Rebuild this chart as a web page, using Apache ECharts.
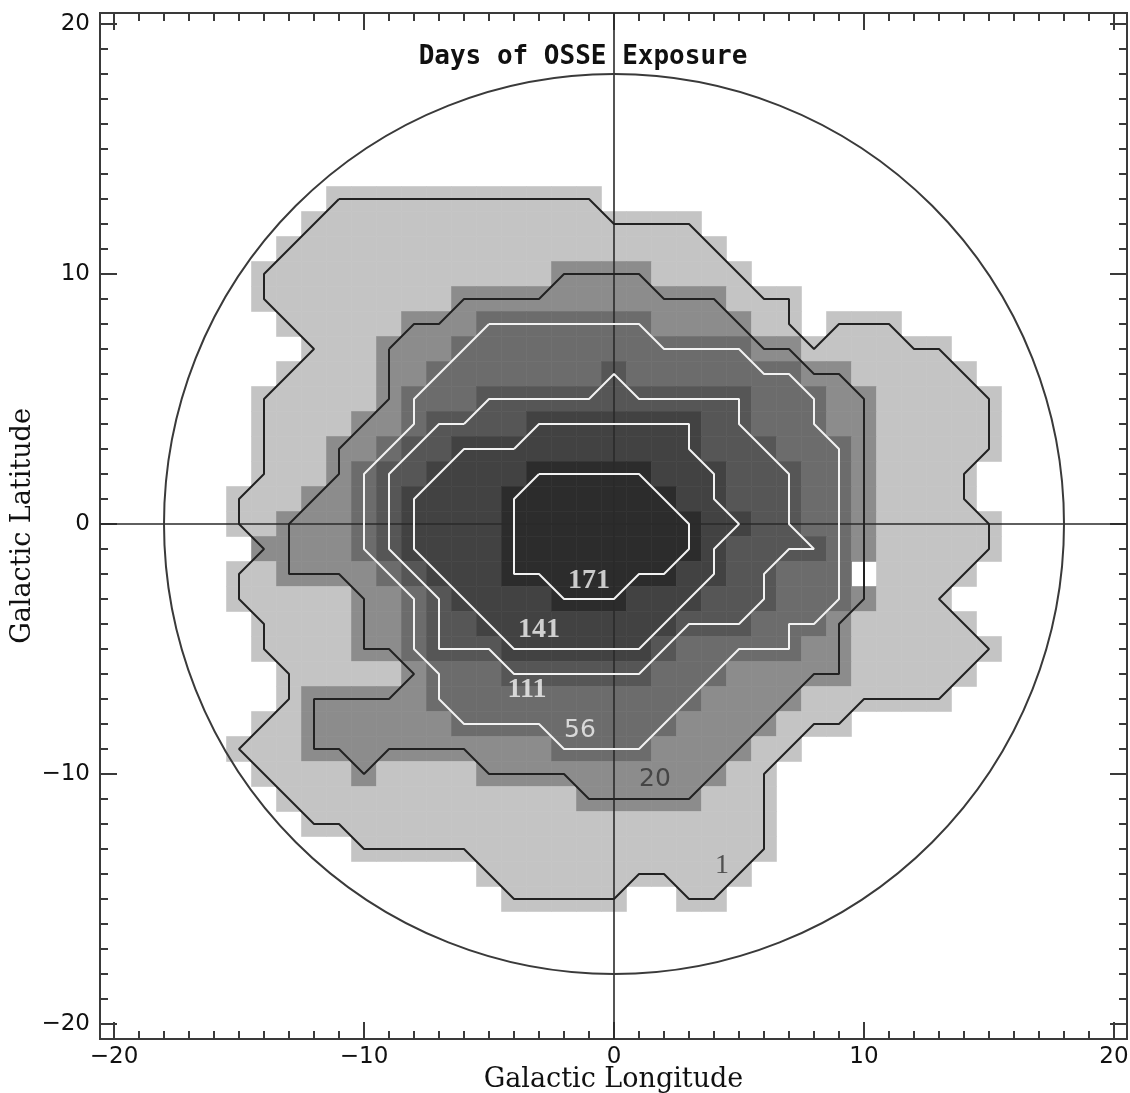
<!DOCTYPE html>
<html><head><meta charset="utf-8">
<script src="https://cdn.jsdelivr.net/npm/echarts@6/dist/echarts.min.js"></script>
<style>html,body{margin:0;padding:0;background:#fff}#c{width:1130px;height:1093px}</style>
</head><body><div id="c"></div>
<script>
// Exposure class of each 1x1 degree cell.
// 0: none, 1: >=1 day, 2: >=20, 3: >=56, 4: >=111, 5: >=141, 6: >=171
// Each row is run-length coded as "count*class", longitudes -16 .. 16.
const firstLongitude = -16;
const firstLatitude = 13;
const exposureRows = [
 "5*0 11*1 17*0",                                   // b = 13
 "4*0 16*1 13*0",                                   // 12
 "3*0 18*1 12*0",                                   // 11
 "2*0 12*1 4*2 4*1 11*0",                           // 10
 "2*0 8*1 11*2 3*1 9*0",                            // 9
 "3*0 5*1 3*2 7*3 4*2 2*1 1*0 3*1 5*0",             // 8
 "4*0 3*1 3*2 12*3 2*2 6*1 3*0",                    // 7
 "3*0 4*1 2*2 7*3 1*4 7*3 2*2 5*1 2*0",             // 6
 "2*0 5*1 1*2 3*3 11*4 3*3 2*2 5*1 1*0",            // 5
 "2*0 4*1 2*2 1*3 4*4 7*5 2*4 3*3 2*2 5*1 1*0",     // 4
 "2*0 3*1 2*2 1*3 2*4 10*5 3*4 3*3 1*2 5*1 1*0",    // 3
 "2*0 3*1 1*2 1*3 2*4 4*5 5*6 3*5 3*4 2*3 1*2 4*1 2*0", // 2
 "1*0 3*1 2*2 1*3 1*4 4*5 7*6 2*5 3*4 2*3 1*2 4*1 2*0", // 1
 "1*0 2*1 3*2 1*3 1*4 4*5 8*6 2*5 2*4 2*3 1*2 5*1 1*0", // 0
 "2*0 4*2 1*3 1*4 4*5 8*6 1*5 4*4 1*3 1*2 5*1 1*0",     // -1
 "1*0 2*1 4*2 1*3 1*4 3*5 7*6 2*5 2*4 3*3 1*0 4*1 2*0", // -2
 "1*0 5*1 2*2 1*3 1*4 4*5 3*6 3*5 3*4 3*3 1*2 3*1 3*0", // -3
 "2*0 4*1 2*2 1*3 2*4 8*5 3*4 3*3 1*2 5*1 2*0",     // -4
 "2*0 4*1 2*2 1*3 3*4 6*5 1*4 5*3 2*2 6*1 1*0",     // -5
 "3*0 5*1 1*2 3*3 6*4 3*3 5*2 5*1 2*0",             // -6
 "3*0 1*1 5*2 11*3 4*2 6*1 3*0",                    // -7
 "2*0 2*1 6*2 9*3 4*2 3*1 7*0",                     // -8
 "1*0 3*1 10*2 4*3 4*2 2*1 9*0",                    // -9
 "2*0 4*1 1*2 4*1 10*2 2*1 10*0",                   // -10
 "3*0 12*1 5*2 3*1 10*0",                           // -11
 "4*0 19*1 10*0",                                   // -12
 "6*0 17*1 10*0",                                   // -13
 "11*0 11*1 11*0",                                  // -14
 "12*0 5*1 2*0 2*1 12*0"                            // -15
];
// Contour lines (longitude, latitude vertices)
const contour1 = [[-11,13],[-1,13],[0,12],[3,12],[6,9],[7,9],[7,8],[8,7],[9,8],[11,8],[12,7],[13,7],[15,5],[15,3],[14,2],[14,1],[15,0],[15,-1],[13,-3],[15,-5],[13,-7],[10,-7],[9,-8],[8,-8],[6,-10],[6,-13],[4,-15],[3,-15],[2,-14],[1,-14],[0,-15],[-4,-15],[-6,-13],[-10,-13],[-11,-12],[-12,-12],[-15,-9],[-13,-7],[-13,-6],[-14,-5],[-14,-4],[-15,-3],[-15,-2],[-14,-1],[-15,0],[-15,1],[-14,2],[-14,5],[-12,7],[-14,9],[-14,10],[-11,13]];
const contour20 = [[-9,7],[-8,8],[-7,8],[-6,9],[-3,9],[-2,10],[1,10],[2,9],[4,9],[5,8],[6,7],[7,7],[8,6],[9,6],[10,5],[10,-3],[9,-4],[9,-6],[8,-6],[3,-11],[-1,-11],[-2,-10],[-5,-10],[-6,-9],[-9,-9],[-10,-10],[-11,-9],[-12,-9],[-12,-7],[-9,-7],[-8,-6],[-9,-5],[-10,-5],[-10,-3],[-11,-2],[-13,-2],[-13,0],[-12,1],[-11,2],[-11,3],[-10,4],[-9,5],[-9,7]];
const contour56 = [[-5,8],[1,8],[2,7],[5,7],[6,6],[7,6],[8,5],[8,4],[9,3],[9,-3],[8,-4],[7,-4],[7,-5],[5,-5],[1,-9],[-2,-9],[-3,-8],[-6,-8],[-7,-7],[-7,-6],[-8,-5],[-8,-3],[-10,-1],[-10,2],[-8,4],[-8,5],[-6,7],[-5,8]];
const contour111 = [[-6,4],[-5,5],[-1,5],[0,6],[1,5],[5,5],[5,4],[7,2],[7,0],[8,-1],[7,-1],[6,-2],[6,-3],[5,-4],[3,-4],[1,-6],[-4,-6],[-5,-5],[-7,-5],[-7,-3],[-9,-1],[-9,2],[-7,4],[-6,4]];
const contour141 = [[-4,3],[-3,4],[3,4],[3,3],[4,2],[4,1],[5,0],[4,-1],[4,-2],[1,-5],[-4,-5],[-5,-4],[-8,-1],[-8,1],[-6,3],[-4,3]];
const contour171 = [[-3,2],[1,2],[3,0],[3,-1],[2,-2],[1,-2],[0,-3],[-2,-3],[-3,-2],[-4,-2],[-4,1],[-3,2]];
const contourNames = ['1','20','56','111','141','171'];
const contourLabels = [['171',-1,-2.28],['141',-3,-4.24],['111',-3.48,-6.64],['56',-1.36,-8.24],['20',1.64,-10.2],['1',4.32,-13.68]];
const tickLabels = [-20,-10,0,10,20];
const exposureCircle = [[0,0,18]];

// decode cells
const cells=[];
exposureRows.forEach((row,i)=>{let l=firstLongitude;const b=firstLatitude-i;
 row.trim().split(/\s+/).forEach(tok=>{const p=tok.split('*');const n=+p[0],c=+p[1];
  for(let k=0;k<n;k++){if(c>0)cells.push([l,b,c]);l++;}});});

const polys=[contour1,contour20,contour56,contour111,contour141,contour171];
const levelColors=['#ffffff','#c4c4c4','#8c8c8c','#6c6c6c','#565656','#424242','#2c2c2c'];
const fmt=v=>v<0?'\u2212'+Math.abs(v):String(v);
const allInts=[];for(let i=-20;i<=20;i++)allInts.push(i);
const axCol='#3a3a3a';
function xa(pos,major,labels){return {type:'value',min:-20.56,max:20.52,position:pos,
 axisLine:{show:true,onZero:false,lineStyle:{color:axCol,width:2}},
 axisTick:{show:true,inside:true,length:major?17:8,customValues:major?tickLabels:allInts,lineStyle:{color:axCol,width:2}},
 axisLabel:{show:labels,customValues:tickLabels,formatter:fmt,fontFamily:'DejaVu Sans',fontSize:23,color:'#111',margin:7},
 splitLine:{show:false}};}
function ya(pos,major,labels){return {type:'value',min:-20.6,max:20.44,position:pos,
 axisLine:{show:true,onZero:false,lineStyle:{color:axCol,width:2}},
 axisTick:{show:true,inside:true,length:major?17:8,customValues:major?tickLabels:allInts,lineStyle:{color:axCol,width:2}},
 axisLabel:{show:labels,customValues:tickLabels,formatter:fmt,fontFamily:'DejaVu Sans',fontSize:23,color:'#111',margin:10},
 splitLine:{show:false}};}

const chart=echarts.init(document.getElementById('c'),null,{renderer:'canvas'});
const series=[];
series.push({type:'custom',coordinateSystem:'cartesian2d',data:cells,z:1,silent:true,
 renderItem:(params,api)=>{const l=api.value(0),b=api.value(1),lev=api.value(2);const p0=api.coord([l-0.5,b+0.5]),p1=api.coord([l+0.5,b-0.5]);
  return {type:'rect',shape:{x:p0[0],y:p0[1],width:p1[0]-p0[0],height:p1[1]-p0[1]},style:{fill:levelColors[lev],stroke:levelColors[lev],lineWidth:0.6}};},
 markLine:{silent:true,symbol:'none',label:{show:false},lineStyle:{color:'#2a2a2a',width:1.6,type:'solid'},data:[{xAxis:0},{yAxis:0}]}});
polys.forEach((p,k)=>{series.push({type:'line',name:contourNames[k],data:p,showSymbol:false,z:5,silent:true,
 lineStyle:{color:k<2?'#222222':'#f2f2f2',width:2}});});
series.push({type:'custom',coordinateSystem:'cartesian2d',data:exposureCircle,z:6,silent:true,
 renderItem:(params,api)=>{const c=api.coord([api.value(0),api.value(1)]);const r=api.size([api.value(2),0])[0];
  return {type:'circle',shape:{cx:c[0],cy:c[1],r:r},style:{fill:null,stroke:'#3a3a3a',lineWidth:2}};}});
const labelStyle={
 '171':{color:'#f4f4f4',fontFamily:'Liberation Serif',fontWeight:'bold',fontSize:28},
 '141':{color:'#f4f4f4',fontFamily:'Liberation Serif',fontWeight:'bold',fontSize:28},
 '111':{color:'#f4f4f4',fontFamily:'Liberation Serif',fontWeight:'bold',fontSize:28},
 '56':{color:'#f4f4f4',fontFamily:'DejaVu Sans',fontWeight:'normal',fontSize:25},
 '20':{color:'#333333',fontFamily:'DejaVu Sans',fontWeight:'normal',fontSize:25},
 '1':{color:'#333333',fontFamily:'Liberation Serif',fontWeight:'normal',fontSize:28}};
series.push({type:'scatter',symbolSize:0,z:8,silent:true,
 data:contourLabels.map(d=>({value:[d[1],d[2]],name:d[0],label:labelStyle[d[0]]})),
 label:{show:true,position:'inside',formatter:p=>p.name}});

chart.setOption({animation:false,
 grid:{left:100,right:3,top:13,bottom:54,containLabel:false,outerBoundsMode:'none'},
 title:{text:'Days of OSSE Exposure',left:578,top:39,textAlign:'center',textStyle:{fontFamily:'DejaVu Sans Mono',fontWeight:'bold',fontSize:26,color:'#111'}},
 xAxis:[Object.assign(xa('bottom',true,true),{name:'Galactic Longitude',nameLocation:'middle',nameGap:27,nameMoveOverlap:false,nameTextStyle:{fontFamily:'DejaVu Serif',fontSize:27,color:'#111'}}),xa('bottom',false,false),xa('top',true,false),xa('top',false,false)],
 yAxis:[Object.assign(ya('left',true,true),{name:'Galactic Latitude',nameLocation:'middle',nameGap:64,nameMoveOverlap:false,nameTextStyle:{fontFamily:'DejaVu Serif',fontSize:27,color:'#111'}}),ya('left',false,false),ya('right',true,false),ya('right',false,false)],
 series:series});
</script></body></html>
